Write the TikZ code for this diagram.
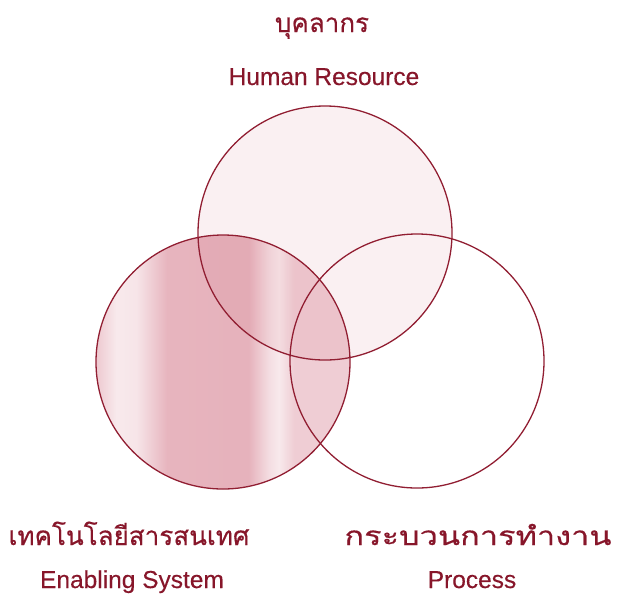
\documentclass[tikz,border=0pt]{standalone}
\usepackage{fontspec}
\setmainfont{Liberation Sans}[FakeBold=0.3]
\newfontfamily\thaifont[Script=Thai, FakeBold=0.5]{Loma}
\newfontfamily\thaiwide[Script=Thai, FakeBold=0.5, FakeStretch=1.25]{Loma}
\usetikzlibrary{positioning}
\definecolor{linered}{RGB}{145,30,50}
\definecolor{textred}{RGB}{135,22,42}
\definecolor{shadered}{RGB}{210,110,125}
\definecolor{scanpink}{RGB}{205,100,120}
% vertical bands of the scanned fill
\pgfdeclarehorizontalshading{scanbands}{100bp}{
  color(0bp)=(scanpink!35); color(25bp)=(scanpink!35);
  color(29bp)=(scanpink!14); color(33bp)=(scanpink!17);
  color(39bp)=(scanpink!48); color(55bp)=(scanpink!50);
  color(59bp)=(scanpink!22); color(61bp)=(scanpink!14);
  color(64bp)=(scanpink!32); color(75bp)=(scanpink!32);
  color(100bp)=(scanpink!32)}

\begin{document}
\begin{tikzpicture}[x=1pt, y=-1pt,
  ring/.style={draw=linered, line width=1.3pt, circle, minimum size=254pt, inner sep=0pt},
  thlabel/.style={text=textred, font=\thaifont\fontsize{26}{30}\selectfont, anchor=base},
  enlabel/.style={text=textred, font=\fontsize{24.5}{29}\selectfont, anchor=base}]
\useasboundingbox (0,0) rectangle (623,595);
\def\r{127}
\coordinate (T) at (325,233);
\coordinate (L) at (223,362);
\coordinate (R) at (417,361);

% shading of the scan
\shade[shading=scanbands] (L) circle[radius=\r];
\fill[shadered, opacity=0.1] (T) circle[radius=\r];

\node[ring] (hr) at (T) {};
\node[ring] (es) at (L) {};
\node[ring] (pr) at (R) {};

\node[thlabel] (hrth) at (322,32) {บุคลากร};
\node[enlabel] (hren) at (324,85) {Human Resource};
\node[thlabel] (esth) at (129,545) {เทคโนโลยีสารสนเทศ};
\node[enlabel] (esen) at (132,588) {Enabling System};
\node[thlabel, font=\thaiwide\fontsize{26}{30}\selectfont] (prth) at (478,545) {กระบวนการทำงาน};
\node[enlabel] (pren) at (472,588) {Process};
\end{tikzpicture}
\end{document}
